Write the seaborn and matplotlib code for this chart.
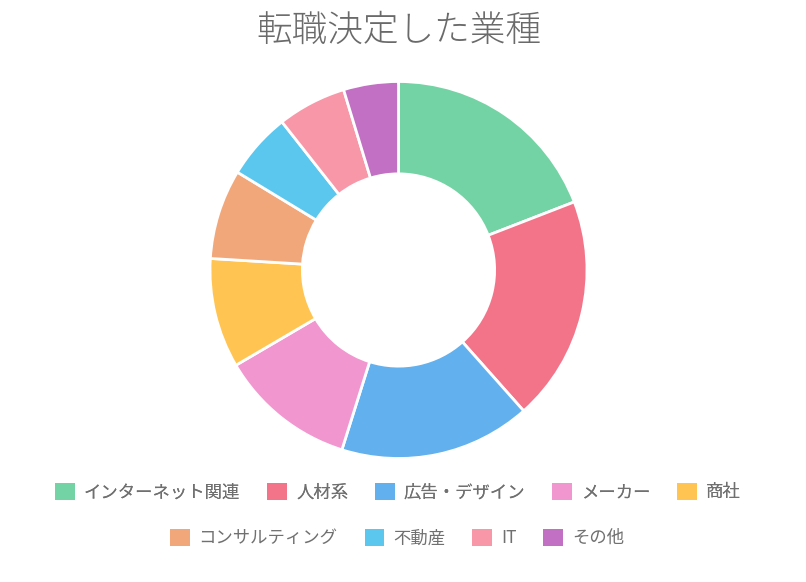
import matplotlib
matplotlib.use("Agg")
import matplotlib.pyplot as plt
import matplotlib.patches as mpatches
import seaborn as sns

categories = ["インターネット関連", "人材系", "広告・デザイン", "メーカー", "商社",
              "コンサルティング", "不動産", "IT", "その他"]
values = [19.1, 19.3, 16.4, 11.7, 9.4, 7.7, 5.7, 5.9, 4.7]
colors = ["#74D3A4", "#F37489", "#62B0EE", "#F296D0", "#FFC452",
          "#F2A77B", "#5BC7EE", "#F797A8", "#C170C3"]
title = "転職決定した業種"

sns.set_theme(style="white")
plt.rcParams['font.family'] = ['Noto Sans CJK JP', 'DejaVu Sans']

W, H = 806, 582
fig = plt.figure(figsize=(W / 100, H / 100), dpi=100)
cx, cy, r = 398.5, 270, 188.5
ax = fig.add_axes([(cx - r) / W, (H - cy - r) / H, 2 * r / W, 2 * r / H])
palette = sns.color_palette(colors)
wedges, _ = ax.pie(values, colors=palette, startangle=90, counterclock=False,
                   radius=1.0, wedgeprops=dict(width=0.49, edgecolor="white", linewidth=2))
for w in wedges:
    w.set_clip_on(False)
ax.set_xlim(-1.0, 1.0)
ax.set_ylim(-1.0, 1.0)
ax.set_aspect("equal")
ax.axis("off")

fig.text(cx / W, 1 - 31 / H, title, ha="center", va="center", fontsize=25.7,
         color="#6a6a6a", fontweight="light")

handles = [mpatches.Patch(facecolor=c, edgecolor="none", label=l) for c, l in zip(palette, categories)]
common = dict(frameon=False, fontsize=12.5, handlelength=1.15, handleheight=1.15,
              handletextpad=0.5, columnspacing=1.55, labelcolor="#707070", borderpad=0)
leg1 = fig.legend(handles=handles[:5], ncol=5, loc="center", bbox_to_anchor=(398 / W, 1 - 492 / H), **common)
fig.add_artist(leg1)
leg2 = fig.legend(handles=handles[5:], ncol=4, loc="center", bbox_to_anchor=(397 / W, 1 - 538 / H), **common)

fig.savefig("out.png", dpi=100, facecolor="white")
